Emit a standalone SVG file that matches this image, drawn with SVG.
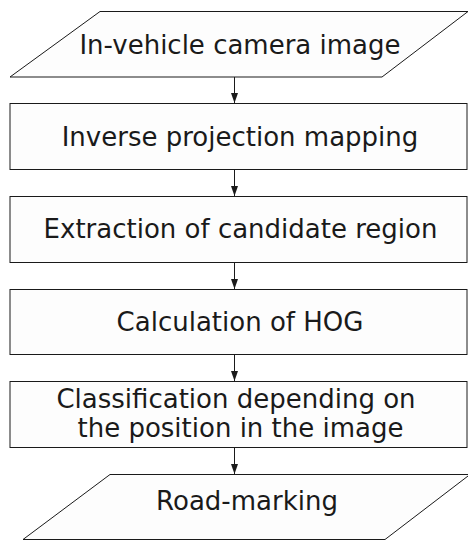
<svg xmlns="http://www.w3.org/2000/svg" width="468" height="540" viewBox="0 0 468 540">
<style>
.n{fill:#fdfdfd;stroke:#1a1a1a;stroke-width:1}
.t{font-family:"DejaVu Sans",sans-serif;font-size:26px;fill:#1a1a1a;text-anchor:middle}
.c{stroke:#1a1a1a;stroke-width:1;fill:none}
</style>
<defs>
<marker id="ah" markerWidth="10" markerHeight="7" refX="10" refY="3.5" orient="auto" markerUnits="userSpaceOnUse" viewBox="0 0 10 7">
<path d="M0,0 L10,3.5 L0,7 Z" fill="#1a1a1a"/>
</marker>
</defs>
<rect width="468" height="540" fill="#fff"/>
<g id="connectors">
<line class="c" x1="234.5" y1="77" x2="234.5" y2="103" marker-end="url(#ah)"/>
<line class="c" x1="234.5" y1="170" x2="234.5" y2="196" marker-end="url(#ah)"/>
<line class="c" x1="234.5" y1="262" x2="234.5" y2="289" marker-end="url(#ah)"/>
<line class="c" x1="234.5" y1="354" x2="234.5" y2="381" marker-end="url(#ah)"/>
<line class="c" x1="234.5" y1="447" x2="234.5" y2="474" marker-end="url(#ah)"/>
</g>
<g id="n1">
<polygon class="n" points="100,11.5 468,11.5 382,77 10,77"/>
<text class="t" x="240" y="54">In-vehicle camera image</text>
</g>
<g id="n2">
<rect class="n" x="10" y="103.5" width="457" height="66"/>
<text class="t" x="240" y="146">Inverse projection mapping</text>
</g>
<g id="n3">
<rect class="n" x="10" y="196.5" width="457" height="66"/>
<text class="t" x="240.5" y="238">Extraction of candidate region</text>
</g>
<g id="n4">
<rect class="n" x="10" y="289.5" width="457" height="65"/>
<text class="t" x="240" y="331">Calculation of HOG</text>
</g>
<g id="n5">
<rect class="n" x="10" y="381.5" width="457" height="66"/>
<text class="t" x="236" y="408">Classification depending on</text>
<text class="t" x="240.5" y="436.5">the position in the image</text>
</g>
<g id="n6">
<polygon class="n" points="110,474.5 470,474.5 385,539.5 23,539.5"/>
<text class="t" x="247" y="510">Road-marking</text>
</g>
</svg>
